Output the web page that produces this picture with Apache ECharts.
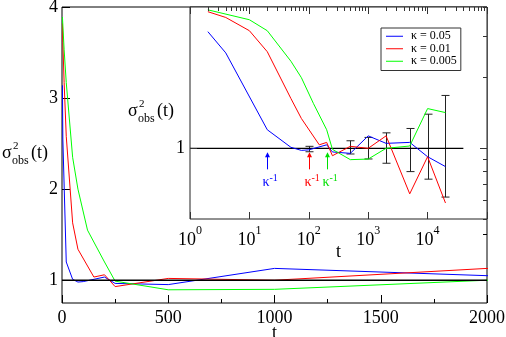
<!DOCTYPE html>
<html>
<head>
<meta charset="utf-8">
<script src="https://cdn.jsdelivr.net/npm/echarts@6/dist/echarts.min.js"></script>
<style>
  html, body { margin: 0; padding: 0; background: #fff; }
  #chart { width: 506px; height: 337px; }
</style>
</head>
<body>
<div id="chart"></div>
<script>
  // kappa = 0.05 (blue)
  var blueT = [2, 4, 20, 50, 75, 100, 200, 250, 500, 1000, 2000, 5000, 10000, 20000];
  var blueV = [3.14, 2.55, 1.2, 1.01, 0.98, 0.985, 1.035, 0.965, 0.952, 1.13, 1.05, 1.06, 0.921, 0.836];
  // kappa = 0.01 (red)
  var redT = [2, 4, 10, 20, 50, 75, 150, 200, 250, 500, 1000, 2000, 5000, 10000, 20000];
  var redV = [3.82, 3.61, 3.17, 2.58, 1.63, 1.34, 1.035, 1.06, 0.93, 1.02, 1.0, 1.13, 0.64, 0.921, 0.585];
  // kappa = 0.005 (green)
  var greenT = [2, 10, 20, 50, 75, 120, 200, 250, 500, 1000, 2000, 5000, 10000, 20000];
  var greenV = [3.89, 3.53, 3.17, 2.35, 2.0, 1.55, 1.2, 0.99, 0.895, 0.9, 1.0, 1.023, 1.477, 1.42];

  // error bars in the inset
  var errT = [100, 500, 1000, 2000, 5000, 10000, 20000];
  var errLo = [0.967, 0.946, 0.901, 0.864, 0.796, 0.739, 0.62];
  var errHi = [1.02, 1.077, 1.113, 1.164, 1.215, 1.398, 1.68];

  // kappa^-1 markers
  var arrowT = [20, 100, 200];
  var arrowColors = ['#0000ff', '#ff0000', '#00e000'];

  // reference lines at 1
  var mainRefT = [0, 2000];
  var insetRefT = [1, 40000];

  var names = ['κ = 0.05', 'κ = 0.01', 'κ = 0.005'];
  var colors = ['#0000ff', '#ff0000', '#00ff00'];

  // ticks
  var mainYMajor = [1, 2, 3, 4];
  var mainYMinor = [1.5, 2.5, 3.5];
  var insetXMajor = [1, 10, 100, 1000, 10000, 100000];
  var insetXLabels = [1, 10, 100, 1000, 10000];
  var insetXMinor = [];
  for (var d = 1; d <= 10000; d *= 10) {
    for (var m = 2; m <= 9; m++) insetXMinor.push(m * d);
  }
  var insetYMajor = [1];
  var insetYMinor = [0.5, 0.6, 0.7, 0.8, 0.9, 2, 3, 4];

  var serif = '"Liberation Serif", "DejaVu Serif", serif';

  function pairs(ts, vs) {
    return ts.map(function (t, i) { return [t, vs[i]]; });
  }

  var chart = echarts.init(document.getElementById('chart'));

  function tickAxis(extra) {
    var base = {
      splitLine: { show: false },
      axisLine: { show: false },
      axisLabel: { show: false },
      axisTick: { show: true, inside: true, length: 4, lineStyle: { color: '#000', width: 1 } }
    };
    return Object.assign(base, extra);
  }

  var xAxes = [
    // main bottom
    {
      gridIndex: 0, type: 'value', min: 0, max: 2000, interval: 500,
      splitLine: { show: false }, axisLine: { show: false },
      axisTick: { inside: true, length: 8, lineStyle: { color: '#000' } },
      minorTick: { show: true, splitNumber: 2, length: 4, lineStyle: { color: '#000' } },
      axisLabel: { fontFamily: serif, fontSize: 18, color: '#000', margin: 6,
        formatter: function (v) { return String(v); } },
      name: 't', nameLocation: 'middle', nameGap: 21, nameMoveOverlap: false,
      nameTextStyle: { fontFamily: serif, fontSize: 18, color: '#000' }
    },
    // inset bottom, labels + major ticks
    {
      gridIndex: 1, type: 'log', logBase: 10, min: 1, max: 100000, z: 9,
      splitLine: { show: false }, axisLine: { show: false },
      axisTick: { inside: true, length: 7, customValues: insetXMajor, lineStyle: { color: '#333' } },
      axisLabel: {
        customValues: insetXLabels, margin: 6, color: '#000',
        formatter: function (v) {
          var e = Math.round(Math.log(v) / Math.LN10);
          return '{b|10}{s|' + e + '}';
        },
        rich: {
          b: { fontFamily: serif, fontSize: 18, lineHeight: 24, verticalAlign: 'bottom', color: '#000' },
          s: { fontFamily: serif, fontSize: 12, lineHeight: 12, verticalAlign: 'top', color: '#000' }
        }
      },
      name: 't', nameLocation: 'middle', nameGap: 24, nameMoveOverlap: false,
      nameTextStyle: { fontFamily: serif, fontSize: 18, color: '#000' }
    },
    tickAxis({ gridIndex: 1, type: 'log', min: 1, max: 100000, z: 9,
      axisTick: { inside: true, length: 4, customValues: insetXMinor, lineStyle: { color: '#333' } } }),
    tickAxis({ gridIndex: 1, type: 'log', min: 1, max: 100000, z: 9, position: 'top',
      axisTick: { inside: true, length: 7, customValues: insetXMajor, lineStyle: { color: '#333' } } }),
    tickAxis({ gridIndex: 1, type: 'log', min: 1, max: 100000, z: 9, position: 'top',
      axisTick: { inside: true, length: 4, customValues: insetXMinor, lineStyle: { color: '#333' } } })
  ];

  var yAxes = [
    // main left
    {
      gridIndex: 0, type: 'value', min: 0.75, max: 4,
      splitLine: { show: false }, axisLine: { show: false },
      axisTick: { inside: true, length: 8, customValues: mainYMajor, lineStyle: { color: '#000' } },
      axisLabel: { customValues: mainYMajor, fontFamily: serif, fontSize: 18, color: '#000', margin: 4 }
    },
    tickAxis({ gridIndex: 0, type: 'value', min: 0.75, max: 4,
      axisTick: { inside: true, length: 4, customValues: mainYMinor, lineStyle: { color: '#000' } } }),
    // inset left
    {
      gridIndex: 1, type: 'log', logBase: 10, min: 0.5, max: 4, z: 9,
      splitLine: { show: false }, axisLine: { show: false },
      axisTick: { inside: true, length: 7, customValues: insetYMajor, lineStyle: { color: '#333' } },
      axisLabel: { customValues: insetYMajor, fontFamily: serif, fontSize: 18, color: '#000', margin: 5 }
    },
    tickAxis({ gridIndex: 1, type: 'log', min: 0.5, max: 4, z: 9,
      axisTick: { inside: true, length: 4, customValues: insetYMinor, lineStyle: { color: '#333' } } }),
    tickAxis({ gridIndex: 1, type: 'log', min: 0.5, max: 4, z: 9, position: 'right',
      axisTick: { inside: true, length: 7, customValues: insetYMajor, lineStyle: { color: '#333' } } }),
    tickAxis({ gridIndex: 1, type: 'log', min: 0.5, max: 4, z: 9, position: 'right',
      axisTick: { inside: true, length: 4, customValues: insetYMinor, lineStyle: { color: '#333' } } })
  ];

  var seriesT = [blueT, redT, greenT];
  var seriesV = [blueV, redV, greenV];
  var series = [];

  // main panel
  series.push({
    type: 'line', xAxisIndex: 0, yAxisIndex: 0, z: 3, silent: true,
    data: pairs(mainRefT, [1, 1]), showSymbol: false,
    lineStyle: { color: '#000', width: 1.5 }
  });
  for (var i = 0; i < 3; i++) {
    series.push({
      name: names[i], type: 'line', xAxisIndex: 0, yAxisIndex: 0, z: 2,
      data: pairs(seriesT[i], seriesV[i]), showSymbol: false, clip: true,
      color: colors[i], lineStyle: { color: colors[i], width: 1 }
    });
  }

  // inset panel
  series.push({
    type: 'line', xAxisIndex: 1, yAxisIndex: 2, z: 8, silent: true,
    data: pairs(insetRefT, [1, 1]), showSymbol: false,
    lineStyle: { color: '#000', width: 1.2 }
  });
  for (var j = 0; j < 3; j++) {
    series.push({
      name: names[j], type: 'line', xAxisIndex: 1, yAxisIndex: 2, z: 8,
      data: pairs(seriesT[j], seriesV[j]), showSymbol: false, clip: true,
      color: colors[j], lineStyle: { color: colors[j], width: 1 }
    });
  }

  // error bars
  series.push({
    type: 'custom', xAxisIndex: 1, yAxisIndex: 2, z: 8, silent: true,
    data: errT.map(function (t, k) { return [t, errLo[k], errHi[k]]; }),
    encode: { x: 0, y: [1, 2] },
    renderItem: function (params, api) {
      var lo = api.coord([api.value(0), api.value(1)]);
      var hi = api.coord([api.value(0), api.value(2)]);
      var x = Math.round(lo[0]) + 0.5;
      var st = { stroke: '#222', lineWidth: 1 };
      return {
        type: 'group', children: [
          { type: 'line', shape: { x1: x, y1: lo[1], x2: x, y2: hi[1] }, style: st },
          { type: 'line', shape: { x1: x - 4, y1: lo[1], x2: x + 4, y2: lo[1] }, style: st },
          { type: 'line', shape: { x1: x - 4, y1: hi[1], x2: x + 4, y2: hi[1] }, style: st }
        ]
      };
    }
  });

  // kappa^-1 arrows
  series.push({
    type: 'custom', xAxisIndex: 1, yAxisIndex: 2, z: 8, silent: true,
    data: arrowT.map(function (t) { return [t, 1]; }),
    encode: { x: 0, y: 1 },
    renderItem: function (params, api) {
      var p = api.coord([api.value(0), api.value(1)]);
      var c = arrowColors[params.dataIndex];
      var x = Math.round(p[0]) + 0.5;
      var top = p[1] + 4, bot = p[1] + 21;
      return {
        type: 'group', children: [
          { type: 'line', shape: { x1: x, y1: bot, x2: x, y2: top + 3 }, style: { stroke: c, lineWidth: 1 } },
          { type: 'polygon', shape: { points: [[x, top], [x - 2.5, top + 5], [x + 2.5, top + 5]] }, style: { fill: c } },
          { type: 'text', x: x - 5, y: p[1] + 34, style: { text: 'κ', fill: c, font: '14px ' + serif, align: 'left', verticalAlign: 'middle' } },
          { type: 'text', x: x + 2, y: p[1] + 30, style: { text: '-1', fill: c, font: '10px ' + serif, align: 'left', verticalAlign: 'middle' } }
        ]
      };
    }
  });

  function yTitle(x0, yMid, big, small) {
    return [
      { type: 'text', x: x0, y: yMid, z: 20, style: { text: 'σ', font: big + 'px ' + serif, fill: '#000', verticalAlign: 'middle' } },
      { type: 'text', x: x0 + 11, y: yMid - 7, z: 20, style: { text: '2', font: small + 'px ' + serif, fill: '#000', verticalAlign: 'middle' } },
      { type: 'text', x: x0 + 10, y: yMid + 8, z: 20, style: { text: 'obs', font: (small + 1) + 'px ' + serif, fill: '#000', verticalAlign: 'middle' } },
      { type: 'text', x: x0 + 29, y: yMid, z: 20, style: { text: '(t)', font: big + 'px ' + serif, fill: '#000', verticalAlign: 'middle' } }
    ];
  }

  var option = {
    animation: false,
    backgroundColor: '#fff',
    grid: [
      { left: 62, top: 7, right: 19, bottom: 34, outerBoundsMode: 'none', containLabel: false,
        show: true, borderColor: '#000', borderWidth: 1, backgroundColor: 'transparent', z: 0 },
      { left: 190, top: 7, right: 19, height: 212, outerBoundsMode: 'none', containLabel: false,
        show: true, borderColor: '#222', borderWidth: 1, backgroundColor: '#fff', z: 5 }
    ],
    legend: {
      data: names, orient: 'vertical', left: 381, top: 28, z: 20,
      icon: 'rect', itemWidth: 17, itemHeight: 1, itemGap: 0,
      padding: [2, 4, 3, 5], borderColor: '#333', borderWidth: 1, backgroundColor: '#fff',
      textStyle: { fontFamily: serif, fontSize: 12, color: '#000', lineHeight: 12.5, padding: [0, 0, 0, 3] }
    },
    xAxis: xAxes,
    yAxis: yAxes,
    series: series,
    graphic: yTitle(2, 153, 18, 11).concat(yTitle(128, 111, 18, 11))
  };

  chart.setOption(option);
</script>
</body>
</html>
